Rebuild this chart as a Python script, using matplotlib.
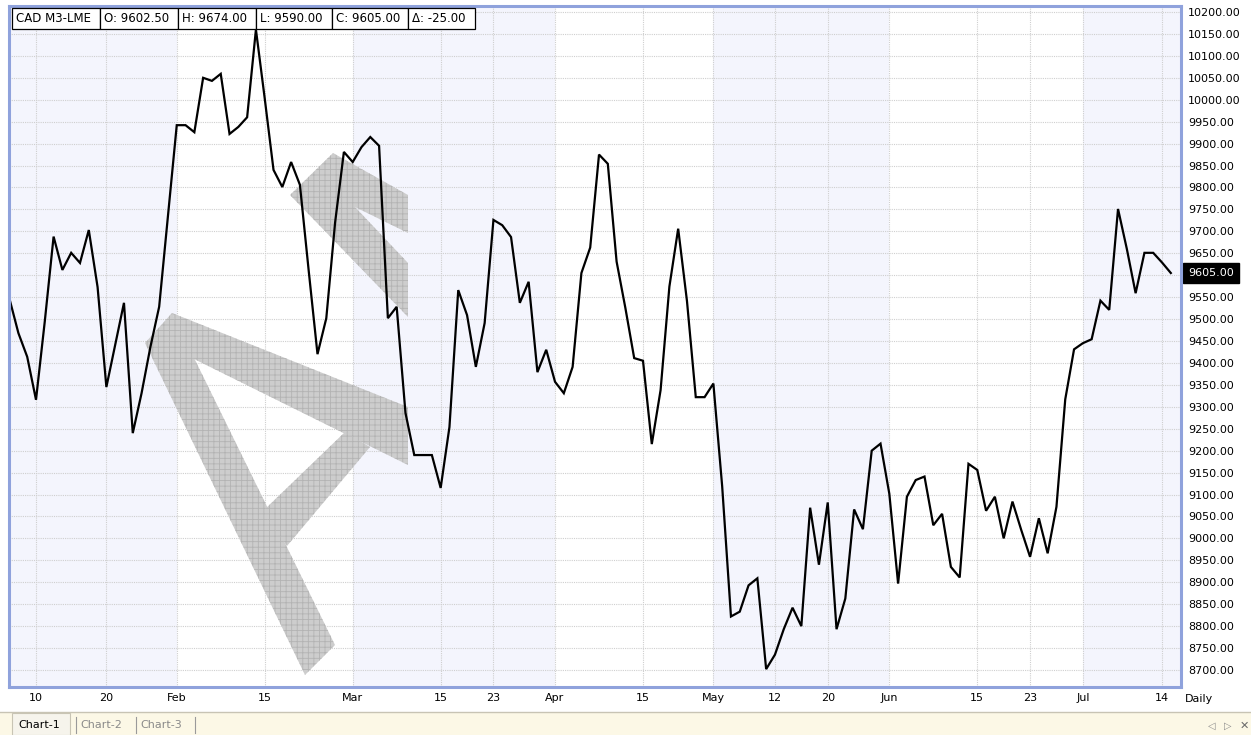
import matplotlib
matplotlib.use('Agg')
import matplotlib.pyplot as plt
from matplotlib.patches import Rectangle, Polygon

# ---------------- data ----------------
close_values = [
    9545, 9468, 9414, 9316, 9495, 9688, 9612, 9651, 9628, 9703,
    9573, 9345, 9441, 9537, 9240, 9331, 9436, 9528, 9735, 9942,
    9942, 9926, 10050, 10043, 10059, 9922, 9938, 9960, 10160, 10003,
    9840, 9801, 9858, 9806, 9610, 9420, 9502, 9720, 9881, 9858,
    9892, 9915, 9895, 9502, 9528, 9286, 9190, 9190, 9190, 9115,
    9254, 9566, 9509, 9391, 9491, 9726, 9714, 9687, 9537, 9585,
    9379, 9430, 9357, 9331, 9391, 9605, 9663, 9875, 9854, 9631,
    9525, 9411, 9405, 9215, 9338, 9574, 9706, 9541, 9322, 9322,
    9353, 9119, 8822, 8833, 8893, 8909, 8702, 8735, 8793, 8842,
    8800, 9070, 8940, 9082, 8793, 8863, 9066, 9021, 9200, 9216,
    9102, 8897, 9095, 9133, 9141, 9030, 9056, 8935, 8911, 9170,
    9156, 9063, 9095, 9000, 9084, 9019, 8958, 9046, 8966, 9072,
    9317, 9431, 9445, 9454, 9542, 9521, 9751, 9660, 9559, 9651,
    9651, 9629, 9605,
]
tick_index = [3, 11, 19, 29, 39, 49, 55, 62, 72, 80, 87, 93, 100, 110, 116, 122, 131]
tick_labels = ['10', '20', 'Feb', '15', 'Mar', '15', '23', 'Apr', '15', 'May',
               '12', '20', 'Jun', '15', '23', 'Jul', '14']
month_start_index = [19, 39, 62, 80, 100, 122]
header_cells = ['CAD M3-LME', 'O: 9602.50', 'H: 9674.00', 'L: 9590.00',
                'C: 9605.00', '\u0394: -25.00']
last_close = 9605.00
y_ticks = list(range(8700, 10201, 50))

# ---------------- figure ----------------
W, H = 1251, 735
plt.rcParams['font.family'] = ['DejaVu Sans']
plt.rcParams['hatch.linewidth'] = 0.6
fig = plt.figure(figsize=(W / 100, H / 100), dpi=100)
fig.patch.set_facecolor('white')


def fx(x):
    return x / W


def fy(y):
    return 1 - y / H


L, R, T, B = 9, 1181, 6, 687
ax = fig.add_axes([fx(L), fy(B), (R - L) / W, (B - T) / H])
ax.set_facecolor('white')

n = len(close_values)
xs = list(range(n))
px_per_day = 8.797
x0 = 3 - (36 - L) / px_per_day
x1 = 3 + (R - 36) / px_per_day
ax.set_xlim(x0, x1)
px_per_unit = 0.4387
ax.set_ylim(8700 - (B - 670) / px_per_unit, 10200 + (12 - T) / px_per_unit)

# alternating month bands
lav = '#f4f5fd'
edges = [x0] + month_start_index + [x1]
for k in range(len(edges) - 1):
    if k % 2 == 0:
        ax.axvspan(edges[k], edges[k + 1], color=lav, lw=0, zorder=0)

# grid
ax.set_yticks(y_ticks)
ax.set_xticks(tick_index)
ax.grid(True, color='#cfcfcf', linestyle=(0, (1, 1)), linewidth=0.8, zorder=0.5)
ax.set_axisbelow(True)

# watermark (decorative)
def poly(pts):
    p = Polygon([(fx(a), fy(b)) for a, b in pts], closed=True,
                transform=fig.transFigure, facecolor='#cdcdcd',
                edgecolor='#b3b3b3', hatch='+++', linewidth=0, zorder=2)
    ax.add_patch(p)

poly([(145, 343), (172, 313), (335, 645), (305, 675)])
poly([(172, 313), (408, 407), (408, 465), (190, 357)])
poly([(262, 512), (345, 432), (370, 447), (287, 546)])
poly([(333, 153), (290, 195), (408, 317), (408, 263), (355, 207),
      (408, 233), (408, 195)])

# price line
ax.plot(xs, close_values, color='black', lw=1.6, zorder=5,
        solid_joinstyle='miter')

# axes styling
for s in ax.spines.values():
    s.set_color('#8fa2dc')
    s.set_linewidth(2.2)
    s.set_zorder(6)
ax.yaxis.tick_right()
ax.tick_params(axis='both', length=0, labelsize=8, colors='black')
ax.tick_params(axis='y', pad=5)
ax.tick_params(axis='x', pad=4)
ylabels = ['' if v == 9600 else f'{v:.2f}' for v in y_ticks]
ax.set_yticklabels(ylabels)
ax.set_xticklabels(tick_labels)

# last price marker box
ax.annotate(f'{last_close:.2f}', xy=(1, last_close),
            xycoords=('axes fraction', 'data'), xytext=(5, 0),
            textcoords='offset points', ha='left', va='center',
            fontsize=8, color='white', annotation_clip=False,
            bbox=dict(boxstyle='square,pad=0.45', fc='black', ec='black'))

fig.text(fx(1185), fy(699), 'Daily', fontsize=8, ha='left', va='center')

# header boxes
cell_x = [12, 100, 178, 256, 332, 408, 475]
for k, txt in enumerate(header_cells):
    a, b = cell_x[k], cell_x[k + 1]
    fig.patches.append(Rectangle((fx(a), fy(29)), (b - a) / W, 21 / H,
                                 transform=fig.transFigure, facecolor='white',
                                 edgecolor='black', linewidth=0.9, zorder=10))
    fig.text(fx(a + 4), fy(18.5), txt, fontsize=8.5, ha='left', va='center',
             zorder=11)

# tab bar
fig.patches.append(Rectangle((0, 0), 1, 23 / H, transform=fig.transFigure,
                             facecolor='#fcf8e6', edgecolor='none', zorder=1))
fig.lines.append(plt.Line2D([0, 1], [fy(712), fy(712)], transform=fig.transFigure,
                            color='#c8c4b4', lw=1))
fig.patches.append(Rectangle((fx(12), 0), 58 / W, 22 / H, transform=fig.transFigure,
                             facecolor='#f6f4ec', edgecolor='#c8c4b4', lw=0.8, zorder=2))
fig.text(fx(18), fy(725), 'Chart-1', fontsize=8, ha='left', va='center', color='black')
fig.text(fx(80), fy(725), 'Chart-2', fontsize=8, ha='left', va='center', color='#8a8a8a')
fig.text(fx(140), fy(725), 'Chart-3', fontsize=8, ha='left', va='center', color='#8a8a8a')
for sx in [76, 136, 195]:
    fig.lines.append(plt.Line2D([fx(sx), fx(sx)], [fy(717), fy(733)],
                                transform=fig.transFigure, color='#9a9a9a', lw=0.8))
fig.text(fx(1208), fy(726), '\u25c1', fontsize=7, ha='left', va='center', color='#8a8a8a')
fig.text(fx(1224), fy(726), '\u25b7', fontsize=7, ha='left', va='center', color='#8a8a8a')
fig.text(fx(1240), fy(726), '\u2715', fontsize=8, ha='left', va='center', color='#6a6a6a')

fig.savefig('out.png', dpi=100, facecolor='white')
